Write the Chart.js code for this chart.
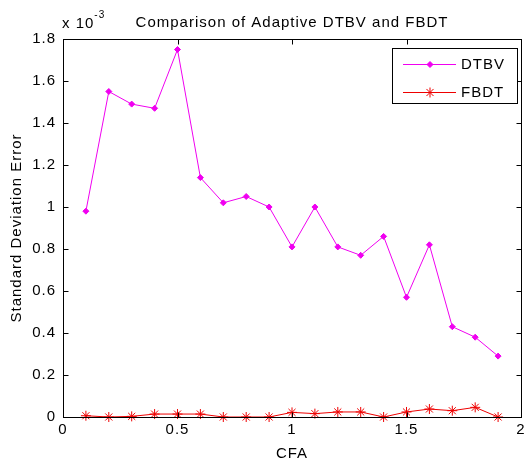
<!DOCTYPE html>
<html>
<head>
<meta charset="utf-8">
<script src="https://cdn.jsdelivr.net/npm/chart.js@4/dist/chart.umd.min.js"></script>
<style>
  html, body { margin: 0; padding: 0; background: #fff; }
  canvas { display: block; }
</style>
</head>
<body>
<canvas id="myChart" width="524" height="466"></canvas>
<script>
// CFA values on the x axis
const cfa = [0.1, 0.2, 0.3, 0.4, 0.5, 0.6, 0.7, 0.8, 0.9, 1.0, 1.1, 1.2, 1.3, 1.4, 1.5, 1.6, 1.7, 1.8, 1.9];
// standard deviation error, in units of 1e-3
const dtbv = [0.98, 1.55, 1.49, 1.47, 1.75, 1.14, 1.02, 1.05, 1.00, 0.81, 1.00, 0.81, 0.77, 0.86, 0.57, 0.82, 0.43, 0.38, 0.29];
const fbdt = [0.006, 0, 0.003, 0.014, 0.014, 0.014, 0, 0, 0, 0.022, 0.016, 0.024, 0.024, 0, 0.024, 0.038, 0.03, 0.046, 0];
const xTicks = [0, 0.5, 1, 1.5, 2];
const yTicks = [0, 0.2, 0.4, 0.6, 0.8, 1, 1.2, 1.4, 1.6, 1.8];

const FONT = "'Liberation Sans', Arial, Helvetica, sans-serif";
const SPACING = '1px';

Chart.defaults.font.family = FONT;
Chart.defaults.font.size = 15;
Chart.defaults.color = '#000';

// canvas state is reset on resize, so set letter spacing before layout and draw
const spacing = {
  id: 'spacing',
  beforeLayout(chart) { chart.ctx.letterSpacing = SPACING; },
  beforeDraw(chart) { chart.ctx.letterSpacing = SPACING; }
};

// box around the axes with inward ticks on all four sides
const frame = {
  id: 'frame',
  afterDraw(chart) {
    const { ctx, chartArea: a, scales } = chart;
    const len = 5;
    ctx.save();
    ctx.strokeStyle = '#000';
    ctx.lineWidth = 1;
    const l = Math.round(a.left) + 0.5, r = Math.round(a.right) + 0.5;
    const t = Math.round(a.top) + 0.5, b = Math.round(a.bottom) + 0.5;
    ctx.strokeRect(l, t, r - l, b - t);
    ctx.beginPath();
    scales.x.ticks.forEach(tk => {
      const px = Math.round(scales.x.getPixelForValue(tk.value)) + 0.5;
      ctx.moveTo(px, b); ctx.lineTo(px, b - len);
      ctx.moveTo(px, t); ctx.lineTo(px, t + len);
    });
    scales.y.ticks.forEach(tk => {
      const py = Math.round(scales.y.getPixelForValue(tk.value)) + 0.5;
      ctx.moveTo(l, py); ctx.lineTo(l + len, py);
      ctx.moveTo(r, py); ctx.lineTo(r - len, py);
    });
    ctx.stroke();

    // "x 10^-3" multiplier above the y axis
    ctx.fillStyle = '#000';
    ctx.textBaseline = 'middle';
    ctx.textAlign = 'left';
    ctx.font = '15px ' + FONT;
    ctx.letterSpacing = SPACING;
    const base = 'x 10';
    ctx.fillText(base, a.left - 1, 24);
    const w = ctx.measureText(base).width;
    ctx.font = '10px ' + FONT;
    ctx.fillText('-3', a.left - 1 + w, 15);
    ctx.restore();
  }
};

// legend box in the upper right corner of the axes
const legendBox = {
  id: 'legendBox',
  afterDraw(chart) {
    const { ctx, chartArea: a } = chart;
    const w = 125, h = 55;
    const x = Math.round(a.right - w - 4), y = Math.round(a.top + 9);
    ctx.save();
    ctx.fillStyle = '#fff';
    ctx.fillRect(x, y, w, h);
    ctx.strokeStyle = '#000';
    ctx.lineWidth = 1;
    ctx.strokeRect(x + 0.5, y + 0.5, w, h);
    chart.data.datasets.forEach((ds, i) => {
      const ly = y + 16.5 + i * 28;
      ctx.strokeStyle = ds.borderColor;
      ctx.fillStyle = ds.pointBackgroundColor;
      ctx.lineWidth = 1;
      ctx.beginPath();
      ctx.moveTo(x + 11, ly);
      ctx.lineTo(x + 64, ly);
      ctx.stroke();
      ctx.strokeStyle = ds.pointBorderColor;
      Chart.helpers.drawPoint(ctx, {
        pointStyle: ds.pointStyle,
        radius: ds.pointRadius,
        borderWidth: ds.pointBorderWidth,
        rotation: 0
      }, x + 38, ly);
      ctx.fillStyle = '#000';
      ctx.font = '15px ' + FONT;
      ctx.letterSpacing = SPACING;
      ctx.textBaseline = 'middle';
      ctx.textAlign = 'left';
      ctx.fillText(ds.label, x + 69, ly);
    });
    ctx.restore();
  }
};

const ctx = document.getElementById('myChart').getContext('2d');
new Chart(ctx, {
  type: 'line',
  data: {
    datasets: [{
      label: 'DTBV',
      data: cfa.map((c, i) => ({ x: c, y: dtbv[i] })),
      borderColor: '#f000f0',
      backgroundColor: '#f000f0',
      pointBackgroundColor: '#f000f0',
      pointBorderColor: '#f000f0',
      pointStyle: 'rectRot',
      pointRadius: 3,
      pointBorderWidth: 1,
      borderWidth: 1,
      tension: 0,
      clip: false
    }, {
      label: 'FBDT',
      data: cfa.map((c, i) => ({ x: c, y: fbdt[i] })),
      borderColor: '#ee0000',
      backgroundColor: '#ee0000',
      pointBackgroundColor: '#ee0000',
      pointBorderColor: '#ee0000',
      pointStyle: 'star',
      pointRadius: 5,
      pointBorderWidth: 1,
      borderWidth: 1,
      tension: 0,
      clip: false
    }]
  },
  options: {
    responsive: false,
    animation: false,
    devicePixelRatio: 1,
    layout: { autoPadding: false, padding: { left: 0, right: 0, top: 0, bottom: 0 } },
    plugins: {
      legend: { display: false },
      tooltip: { enabled: false },
      title: {
        display: true,
        text: 'Comparison of Adaptive DTBV and FBDT',
        fullSize: false,
        font: { size: 15, weight: 'normal' },
        color: '#000',
        padding: { top: 14, bottom: 7 }
      }
    },
    scales: {
      x: {
        type: 'linear',
        min: 0,
        max: 2,
        afterBuildTicks: scale => { scale.ticks = xTicks.map(v => ({ value: v })); },
        afterFit: scale => { scale.height = 49; scale.paddingRight = 3; },
        ticks: { padding: 4, callback: v => String(v), maxRotation: 0 },
        grid: { display: false, drawTicks: false },
        border: { display: false },
        title: { display: true, text: 'CFA', padding: { top: 0, bottom: 3 } }
      },
      y: {
        min: 0,
        max: 1.8,
        afterBuildTicks: scale => { scale.ticks = yTicks.map(v => ({ value: v })); },
        afterFit: scale => { scale.width = 63; },
        ticks: { padding: 7, callback: v => String(v) },
        grid: { display: false, drawTicks: false },
        border: { display: false },
        title: { display: true, text: 'Standard Deviation Error', padding: { top: 8, bottom: 0 } }
      }
    }
  },
  plugins: [spacing, frame, legendBox]
});
</script>
</body>
</html>
